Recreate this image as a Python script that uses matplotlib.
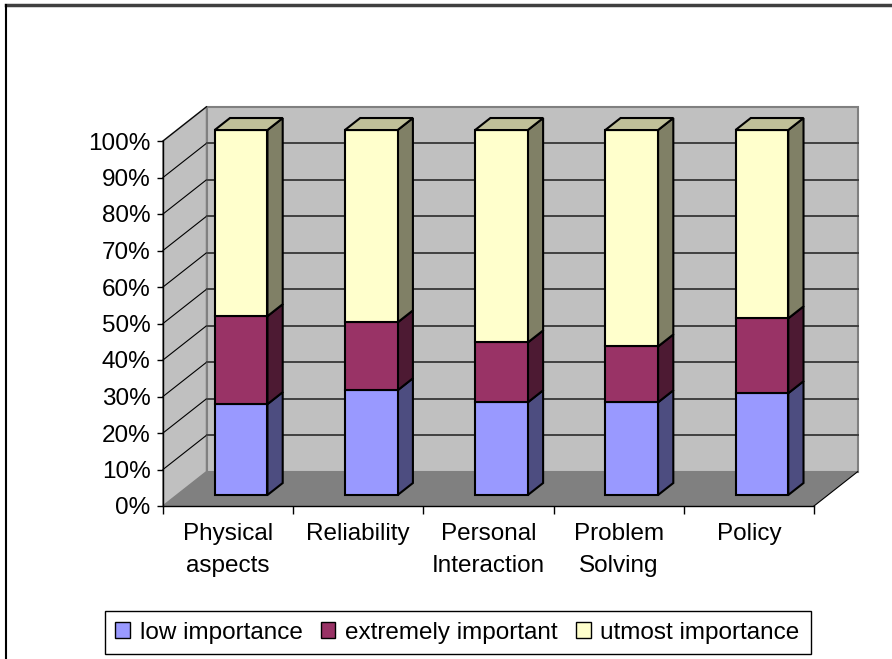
import matplotlib
matplotlib.use("Agg")
import matplotlib.pyplot as plt
from matplotlib.patches import Polygon, Patch
from matplotlib.lines import Line2D
import numpy as np

plt.rcParams["font.family"] = ["Liberation Sans", "DejaVu Sans"]

# ── Data ─────────────────────────────────────────────────────────────────────
categories = ["Physical\naspects", "Reliability", "Personal\nInteraction",
              "Problem\nSolving", "Policy"]
low_importance = [24.9, 28.7, 25.4, 25.4, 27.9]
extremely_important = [24.1, 18.6, 16.4, 15.3, 20.5]
utmost_importance = [51.0, 52.7, 58.2, 59.3, 51.6]
series_names = ["low importance", "extremely important", "utmost importance"]

# ── Styles ───────────────────────────────────────────────────────────────────
FRONT = ["#9999FF", "#993366", "#FFFFCC"]
SIDE = ["#4D4D80", "#4D1A33", "#808066"]
TOP = ["#7373BF", "#73264D", "#C0C099"]
WALL = "#C0C0C0"
FLOOR = "#808080"
EDGE = "#808080"
FS = 17.5

DX, DY = 0.335, 9.4          # depth offset (x in category units, y in %)
F0, F1 = 0.32, 0.67          # bar front / back depth fractions
BW = 0.405                   # bar width
BX = 0.29                    # bar left offset inside a category

fig = plt.figure(figsize=(8.92, 6.59), dpi=100)
fig.patch.set_facecolor("white")
ax = fig.add_axes([163 / 892, 1 - 506 / 659, 651 / 892, 365 / 659])
ax.set_xlim(0, len(categories))
ax.set_ylim(0, 100)
ax.set_facecolor("none")
n = len(categories)


def poly(pts, fc, ec="black", lw=1.5, z=3):
    ax.add_patch(Polygon(pts, closed=True, fc=fc, ec=ec, lw=lw,
                         clip_on=False, zorder=z, joinstyle="miter"))


# walls and floor
poly([(0, 0), (DX, DY), (DX, 100 + DY), (0, 100)], WALL, EDGE, 1.2, 1)
poly([(DX, DY), (n + DX, DY), (n + DX, 100 + DY), (DX, 100 + DY)], WALL, EDGE, 1.5, 1)
poly([(0, 0), (n, 0), (n + DX, DY), (DX, DY)], FLOOR, "none", 0, 1)
ax.plot([n, n + DX], [0, DY], color="black", lw=0.8, clip_on=False, zorder=2)

# gridlines
for g in range(10, 101, 10):
    ax.plot([0, DX], [g, g + DY], color="black", lw=0.8, clip_on=False, zorder=2)
    if g < 100:
        ax.plot([DX, n + DX], [g + DY, g + DY], color="#404040", lw=1.4,
                clip_on=False, zorder=2)

# stacked 3D bars
data = np.array([low_importance, extremely_important, utmost_importance])
data = data / data.sum(axis=0) * 100
for i in range(n):
    x0 = i + BX + F0 * DX
    y_off = F0 * DY
    ddx, ddy = (F1 - F0) * DX, (F1 - F0) * DY
    base = 0
    for s in range(3):
        v = data[s, i]
        yb, yt = base + y_off, base + v + y_off
        x1 = x0 + BW
        poly([(x1, yb), (x1 + ddx, yb + ddy), (x1 + ddx, yt + ddy), (x1, yt)], SIDE[s])
        poly([(x0, yb), (x1, yb), (x1, yt), (x0, yt)], FRONT[s])
        if s == 2:
            poly([(x0, yt), (x1, yt), (x1 + ddx, yt + ddy), (x0 + ddx, yt + ddy)], TOP[s])
        base += v

# axes
for sp in ["top", "right"]:
    ax.spines[sp].set_visible(False)
ax.spines["left"].set_linewidth(1.0)
ax.spines["bottom"].set_linewidth(1.0)
ax.spines["left"].set_zorder(4)
ax.spines["bottom"].set_zorder(4)
ax.set_yticks(range(0, 101, 10))
ax.set_yticklabels([f"{v}%" for v in range(0, 101, 10)])
ax.tick_params(axis="y", length=4, width=1, pad=5, labelsize=FS)
ax.set_xticks(range(n + 1))
ax.set_xticklabels([])
ax.tick_params(axis="x", which="major", length=6, width=1)
ax.set_xticks(np.arange(n) + 0.5, minor=True)
ax.set_xticklabels(categories, minor=True, fontsize=FS, linespacing=1.62)
ax.tick_params(axis="x", which="minor", length=0, pad=12)

# legend
handles = [Patch(fc=c, ec="black", lw=1.0) for c in FRONT]
fig.legend(handles, series_names, loc="center", bbox_to_anchor=(457.5 / 892, 1 - 632.5 / 659),
           ncol=3, fontsize=FS, frameon=True, fancybox=False, edgecolor="black",
           handlelength=0.6, handleheight=0.6, handletextpad=0.4, columnspacing=0.75,
           borderpad=0.45, framealpha=1)
fig.legends[0].get_frame().set_linewidth(1.0)

# chart border
fig.add_artist(Line2D([6 / 892, 1], [1 - 5 / 659, 1 - 5 / 659], color="#404040", lw=2.5))
fig.add_artist(Line2D([6 / 892, 6 / 892], [0, 1 - 5 / 659], color="black", lw=1.5))

fig.savefig("out.png", dpi=100, facecolor="white")
